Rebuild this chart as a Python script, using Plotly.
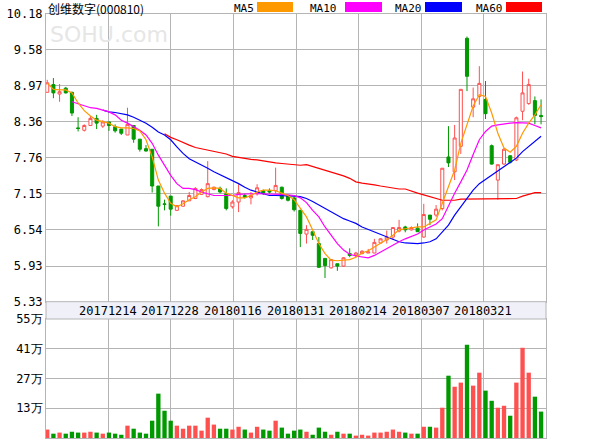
import plotly.graph_objects as go

# daily OHLC for 000810 (81 trading days)
opens = [8.86, 8.99, 8.83, 8.93, 8.86, 8.26, 8.22, 8.30, 8.42, 8.29,
         8.36, 8.28, 8.24, 8.14, 8.30, 8.07, 7.91, 7.90, 7.28, 6.98,
         7.11, 6.87, 6.94, 7.03, 7.07, 7.14, 7.10, 7.22, 7.24, 7.15,
         6.93, 7.01, 7.12, 7.08, 7.15, 7.20, 7.20, 7.20, 7.26, 7.12,
         7.08, 6.87, 6.47, 6.51, 6.31, 6.06, 5.90, 5.97, 5.93, 6.14,
         6.11, 6.14, 6.15, 6.15, 6.32, 6.37, 6.42, 6.52, 6.59, 6.54,
         6.57, 6.42, 6.79, 6.79, 6.90, 7.77, 7.52, 7.95, 9.77, 8.61,
         8.79, 8.74, 7.96, 7.38, 7.65, 7.79, 7.72, 8.54, 8.67, 8.72, 8.47]
highs = [9.07, 9.10, 9.00, 8.95, 8.87, 8.44, 8.32, 8.46, 8.48, 8.39,
         8.36, 8.32, 8.24, 8.60, 8.30, 8.07, 7.97, 7.90, 7.28, 7.05,
         7.11, 6.96, 7.04, 7.18, 7.26, 7.24, 7.70, 7.27, 7.27, 7.24,
         7.04, 7.31, 7.15, 7.18, 7.31, 7.22, 7.24, 7.59, 7.27, 7.13,
         7.10, 6.88, 6.62, 6.51, 6.42, 6.06, 6.04, 5.97, 6.08, 6.23,
         6.17, 6.20, 6.22, 6.39, 6.40, 6.53, 6.58, 6.71, 6.61, 6.60,
         6.65, 6.98, 6.79, 6.96, 7.58, 8.29, 8.31, 8.91, 9.80, 8.94,
         9.30, 9.05, 7.98, 7.64, 7.92, 7.80, 8.45, 9.21, 9.09, 8.79, 8.74]
lows = [8.86, 8.76, 8.70, 8.84, 8.46, 8.20, 8.20, 8.30, 8.24, 8.26,
        8.21, 8.18, 8.14, 8.14, 8.01, 7.86, 7.86, 7.17, 6.60, 6.87,
        6.78, 6.86, 6.93, 7.03, 7.06, 7.13, 7.09, 7.21, 7.16, 6.87,
        6.90, 6.84, 7.07, 6.97, 7.12, 7.13, 7.15, 7.15, 7.05, 7.02,
        6.85, 6.25, 6.31, 6.37, 5.90, 5.73, 5.89, 5.85, 5.92, 6.08,
        6.08, 6.13, 6.15, 6.15, 6.31, 6.31, 6.37, 6.50, 6.50, 6.53,
        6.51, 6.41, 6.62, 6.76, 6.87, 7.60, 7.38, 7.82, 8.88, 8.44,
        8.65, 8.41, 7.64, 7.05, 7.64, 7.66, 7.70, 8.39, 8.65, 8.32, 8.32]
closes = [9.02, 8.85, 8.87, 8.85, 8.51, 8.25, 8.30, 8.42, 8.34, 8.36,
          8.30, 8.21, 8.17, 8.32, 8.07, 7.90, 7.87, 7.28, 6.94, 6.97,
          6.89, 6.95, 7.03, 7.12, 7.24, 7.22, 7.32, 7.26, 7.18, 6.90,
          7.01, 7.17, 7.09, 7.12, 7.25, 7.16, 7.18, 7.29, 7.07, 7.04,
          6.88, 6.48, 6.55, 6.45, 5.91, 5.94, 6.04, 5.93, 6.07, 6.11,
          6.15, 6.18, 6.17, 6.33, 6.39, 6.42, 6.58, 6.58, 6.54, 6.58,
          6.51, 6.80, 6.72, 6.89, 7.58, 7.67, 8.09, 8.91, 9.13, 8.75,
          9.01, 8.50, 7.65, 7.64, 7.90, 7.68, 8.43, 8.85, 8.99, 8.47, 8.45]

# volume in 万 shares
volume = [3.9, 2.0, 2.5, 2.0, 2.9, 2.5, 2.5, 2.9, 2.5, 2.0,
          2.5, 2.0, 1.5, 5.7, 4.3, 2.5, 2.0, 8.0, 20.5, 12.6,
          8.0, 5.7, 4.3, 5.7, 5.7, 3.4, 9.4, 6.2, 4.3, 4.3,
          3.9, 5.2, 3.9, 2.5, 5.2, 3.9, 3.4, 8.0, 4.8, 2.0,
          3.4, 3.9, 2.9, 1.5, 4.8, 2.9, 1.5, 2.9, 2.0, 2.0,
          1.1, 1.5, 1.1, 2.5, 2.5, 2.9, 3.9, 2.9, 2.5, 2.0,
          2.0, 5.2, 5.2, 4.8, 14.0, 28.8, 23.7, 25.6, 43.1, 24.2,
          30.2, 21.9, 17.2, 14.0, 14.9, 10.3, 25.6, 41.7, 30.2, 19.1, 12.2]

# moving averages as drawn on the chart
ma5 = [9.02, 8.91, 8.90, 8.90, 8.85, 8.68, 8.55, 8.46, 8.39, 8.36,
       8.34, 8.28, 8.26, 8.26, 8.25, 8.21, 8.06, 7.77, 7.38, 7.16,
       6.99, 6.93, 6.98, 7.05, 7.10, 7.18, 7.24, 7.25, 7.24, 7.16,
       7.12, 7.08, 7.08, 7.12, 7.18, 7.21, 7.21, 7.20, 7.16, 7.12,
       7.05, 6.90, 6.76, 6.54, 6.31, 6.14, 6.03, 6.02, 6.03, 6.04,
       6.08, 6.15, 6.19, 6.25, 6.31, 6.38, 6.45, 6.54, 6.56, 6.58,
       6.59, 6.59, 6.65, 6.71, 6.99, 7.27, 7.55, 8.00, 8.31, 8.63,
       8.82, 8.79, 8.51, 8.17, 7.92, 7.85, 7.95, 8.17, 8.34, 8.48, 8.65]
ma10 = [None, None, None, None, 8.70, 8.67, 8.63, 8.60, 8.59, 8.56,
        8.53, 8.48, 8.39, 8.34, 8.28, 8.22, 8.14, 8.00, 7.80, 7.63,
        7.46, 7.32, 7.24, 7.24, 7.22, 7.18, 7.15, 7.12, 7.12, 7.12,
        7.12, 7.14, 7.15, 7.15, 7.15, 7.15, 7.14, 7.14, 7.14, 7.13,
        7.12, 7.08, 7.00, 6.87, 6.76, 6.59, 6.45, 6.31, 6.20, 6.13,
        6.10, 6.08, 6.07, 6.11, 6.17, 6.23, 6.28, 6.34, 6.39, 6.43,
        6.47, 6.54, 6.59, 6.64, 6.73, 6.96, 7.16, 7.35, 7.55, 7.81,
        8.06, 8.20, 8.29, 8.31, 8.33, 8.34, 8.35, 8.34, 8.34, 8.30, 8.26]
ma20 = [None] * 9 + [
        8.56, 8.53, 8.52, 8.50, 8.48, 8.44, 8.39, 8.34, 8.27, 8.19, 8.14,
        8.06, 7.94, 7.83, 7.74, 7.69, 7.63, 7.58, 7.52, 7.47, 7.42,
        7.38, 7.32, 7.26, 7.21, 7.18, 7.15, 7.12, 7.12, 7.12, 7.12,
        7.11, 7.10, 7.07, 7.02, 6.96, 6.90, 6.85, 6.79, 6.73, 6.69,
        6.65, 6.59, 6.55, 6.51, 6.47, 6.42, 6.38, 6.34, 6.32, 6.31,
        6.31, 6.32, 6.34, 6.39, 6.51, 6.62, 6.79, 6.93, 7.07, 7.21,
        7.32, 7.39, 7.47, 7.54, 7.61, 7.67, 7.75, 7.86, 7.95, 8.03, 8.12]
ma60 = [None] * 19 + [
        8.16,
        8.10, 8.06, 8.01, 7.97, 7.93, 7.91, 7.89, 7.87, 7.85, 7.82,
        7.78, 7.76, 7.74, 7.73, 7.72, 7.70, 7.69, 7.67, 7.66, 7.65,
        7.63, 7.63, 7.64, 7.61, 7.58, 7.54, 7.51, 7.48, 7.45, 7.41,
        7.35, 7.33, 7.32, 7.30, 7.28, 7.26, 7.24, 7.23, 7.23, 7.19,
        7.16, 7.13, 7.10, 7.06, 7.04, 7.04, 7.04, 7.06, 7.06, 7.07,
        7.07, 7.07, 7.07, 7.07, 7.07, 7.07, 7.07, 7.11, 7.14, 7.17, 7.17]

date_ticks = [9.9, 19.9, 30.1, 40.3, 50.4, 60.6, 70.6]
date_labels = ['20171214', '20171228', '20180116', '20180131',
               '20180214', '20180307', '20180321']
price_ticks = [5.33, 5.93, 6.54, 7.15, 7.76, 8.36, 8.97, 9.58, 10.18]
vol_ticks = [0, 13.75, 27.5, 41.25, 55]
vol_labels = ['0', '13万', '27万', '41万', '55万']

UP = '#ff5050'
DOWN = '#009900'
GRID = '#b4b4b4'
FONT = 'DejaVu Sans Mono'

x = list(range(len(closes)))
vol_colors = [UP if c >= o else DOWN for o, c in zip(opens, closes)]

fig = go.Figure()
fig.add_trace(go.Candlestick(
    x=x, open=opens, high=highs, low=lows, close=closes,
    increasing=dict(line=dict(color=UP, width=1), fillcolor='white'),
    decreasing=dict(line=dict(color=DOWN, width=1), fillcolor=DOWN),
    whiskerwidth=0, showlegend=False, xaxis='x', yaxis='y'))
for vals, col in [(ma60, 'red'), (ma20, 'blue'), (ma10, '#ff00ff'), (ma5, '#ff9900')]:
    fig.add_trace(go.Scatter(x=x, y=vals, mode='lines', line=dict(color=col, width=1.2),
                             showlegend=False, xaxis='x', yaxis='y'))
fig.add_trace(go.Bar(x=x, y=volume, marker=dict(color=vol_colors, line_width=0),
                     width=0.7, showlegend=False, xaxis='x2', yaxis='y2'))

H = 440.0
def py(pix):
    return 1 - pix / H

xdom = [46 / 600, 546 / 600]
axis_common = dict(showgrid=True, gridcolor=GRID, gridwidth=1, zeroline=False,
                   showline=True, linecolor=GRID, mirror=True, ticks='', automargin=False,
                   tickfont=dict(family=FONT, size=12, color='black'))
fig.update_layout(
    width=600, height=440, margin=dict(l=0, r=0, t=0, b=0),
    paper_bgcolor='white', plot_bgcolor='white', bargap=0.3,
    xaxis=dict(axis_common, domain=xdom, range=[-0.2, 80.8], anchor='y',
               tickvals=date_ticks, ticktext=date_labels, showticklabels=False,
               rangeslider=dict(visible=False)),
    yaxis=dict(axis_common, domain=[py(301.7), py(14)], range=[5.33, 10.18],
               tickvals=price_ticks, ticktext=[f'{v:.2f}' for v in price_ticks]),
    xaxis2=dict(axis_common, domain=xdom, range=[-0.2, 80.8], anchor='y2',
                tickvals=date_ticks, showticklabels=False),
    yaxis2=dict(axis_common, domain=[py(438), py(319)], range=[0, 55],
                tickvals=vol_ticks, ticktext=vol_labels),
)

# date band between the two panels
fig.add_shape(type='rect', xref='paper', yref='paper', x0=xdom[0], x1=xdom[1],
              y0=py(319), y1=py(301.7), fillcolor='#f0f1f8', line=dict(color=GRID, width=1))
for t, lab in zip(date_ticks, date_labels):
    fig.add_annotation(x=t, xref='x', y=py(310.5), yref='paper', text=lab, showarrow=False,
                       yanchor='middle', font=dict(family=FONT, size=12, color='black'))

# watermark and header legend
fig.add_annotation(x=48 / 600, y=py(34), xref='paper', yref='paper', text='SOHU.com',
                   xanchor='left', yanchor='middle', showarrow=False,
                   font=dict(family='DejaVu Sans', size=22, color='#e6e6e6'))
fig.add_annotation(x=46 / 600, y=py(8), xref='paper', yref='paper', text='创维数字(000810)',
                   xanchor='left', yanchor='middle', showarrow=False,
                   font=dict(family='Noto Sans CJK SC', size=12, color='black'))
legend_items = [('MA5', '#ff9900', 232, 257, 293), ('MA10', '#ff00ff', 308, 345, 382),
                ('MA20', 'blue', 393, 425, 462), ('MA60', 'red', 474, 506, 542)]
for name, col, tx, b0, b1 in legend_items:
    fig.add_annotation(x=tx / 600, y=py(8), xref='paper', yref='paper', text=name,
                       xanchor='left', yanchor='middle', showarrow=False,
                       font=dict(family=FONT, size=11, color='black'))
    fig.add_shape(type='rect', xref='paper', yref='paper', x0=b0 / 600, x1=b1 / 600,
                  y0=py(12), y1=py(2), fillcolor=col, line=dict(width=0))

fig.write_html("out.html", config={'displayModeBar': False},
               post_script="document.body.style.margin='0';")
